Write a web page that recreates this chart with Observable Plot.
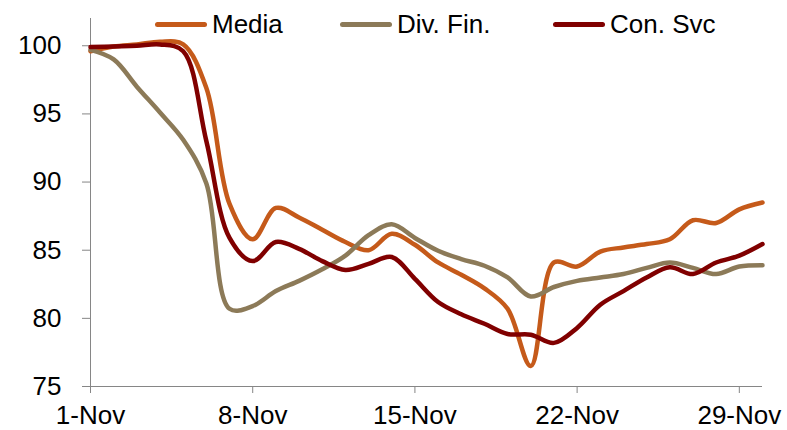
<!DOCTYPE html>
<html>
<head>
<meta charset="utf-8">
<script src="https://cdn.jsdelivr.net/npm/d3@7"></script>
<script src="https://cdn.jsdelivr.net/npm/@observablehq/plot@0.6"></script>
<style>
  html, body { margin: 0; padding: 0; background: #fff; }
  #wrap { position: relative; width: 787px; height: 430px; font-family: "Liberation Sans", Arial, sans-serif; }
  #legend { position: absolute; left: 0; top: 0; width: 787px; height: 48px; }
  .item { position: absolute; top: 9px; display: flex; align-items: center; font-size: 26px; color: #000; line-height: 30px; }
  .swatch { width: 52px; height: 5px; border-radius: 3px; margin-right: 5px; }
</style>
</head>
<body>
<div id="wrap">
  <div id="chart"></div>
  <div id="legend"></div>
</div>
<script>
// Day of November (2008)
const days = [1,2,3,4,5,6,7,8,9,10,11,12,13,14,15,16,17,18,19,20,21,22,23,24,25,26,27,28,29,30];
const seriesNames = ["Media", "Div. Fin.", "Con. Svc"];
const seriesColors = ["#C55A1A", "#8C7A58", "#800000"];
const media   = [99.6, 99.95, 100.1, 100.3, 100.1, 96.9, 88.4, 85.8, 88.1, 87.4, 86.5, 85.6, 85.0, 86.2, 85.4, 84.1, 83.2, 82.2, 80.7, 76.5, 84.1, 83.8, 84.9, 85.2, 85.45, 85.8, 87.2, 87.0, 88.0, 88.5];
const divFin  = [99.7, 99.0, 97.0, 95.1, 93.1, 89.9, 80.7, 80.9, 82.0, 82.75, 83.6, 84.6, 86.1, 86.9, 85.9, 84.96, 84.35, 83.86, 83.0, 81.6, 82.3, 82.75, 83.0, 83.25, 83.7, 84.1, 83.7, 83.25, 83.8, 83.9];
const conSvc  = [99.9, 99.95, 100.0, 100.1, 99.6, 93.0, 85.9, 84.2, 85.6, 85.1, 84.2, 83.55, 84.0, 84.5, 82.9, 81.2, 80.3, 79.6, 78.85, 78.8, 78.2, 79.3, 81.0, 82.0, 83.0, 83.75, 83.25, 84.1, 84.6, 85.45];
const xTickDays = [1, 8, 15, 22, 29];
const yTicks = [75, 80, 85, 90, 95, 100];

const toDate = d => new Date(Date.UTC(2008, 10, d));
const valuesBySeries = [media, divFin, conSvc];
const data = [];
seriesNames.forEach((name, i) => {
  days.forEach((d, j) => data.push({series: name, date: toDate(d), value: valuesBySeries[i][j]}));
});

const axisColor = "#868686";
const chart = Plot.plot({
  width: 787,
  height: 430,
  marginLeft: 90,
  marginRight: 25,
  marginTop: 18,
  marginBottom: 44,
  style: {fontFamily: "'Liberation Sans', Arial, sans-serif", fontSize: "26px", color: "#000", background: "#fff"},
  x: {type: "utc", domain: [toDate(1), toDate(30)], label: null},
  y: {domain: [75, 102], label: null},
  color: {domain: seriesNames, range: seriesColors},
  marks: [
    Plot.axisX({ticks: xTickDays.map(toDate), tickFormat: d3.utcFormat("%-d-%b"), tickSize: 7, tickPadding: 12, stroke: axisColor, fill: "#000", label: null}),
    Plot.axisY({ticks: yTicks, tickSize: 8, tickPadding: 21, stroke: axisColor, fill: "#000", label: null}),
    Plot.ruleX([toDate(1)], {stroke: axisColor}),
    Plot.ruleY([75], {stroke: axisColor}),
    Plot.lineY(data, {x: "date", y: "value", z: "series", stroke: "series", curve: "catmull-rom", strokeWidth: 4.5, strokeLinecap: "round", strokeLinejoin: "round"})
  ]
});
document.getElementById("chart").appendChild(chart);

// Legend (overlaid at top of plot)
const legendLefts = [155, 340, 553];
const legend = document.getElementById("legend");
seriesNames.forEach((name, i) => {
  const item = document.createElement("div");
  item.className = "item";
  item.style.left = legendLefts[i] + "px";
  const sw = document.createElement("span");
  sw.className = "swatch";
  sw.style.background = seriesColors[i];
  const tx = document.createElement("span");
  tx.textContent = name;
  item.appendChild(sw);
  item.appendChild(tx);
  legend.appendChild(item);
});
</script>
</body>
</html>
